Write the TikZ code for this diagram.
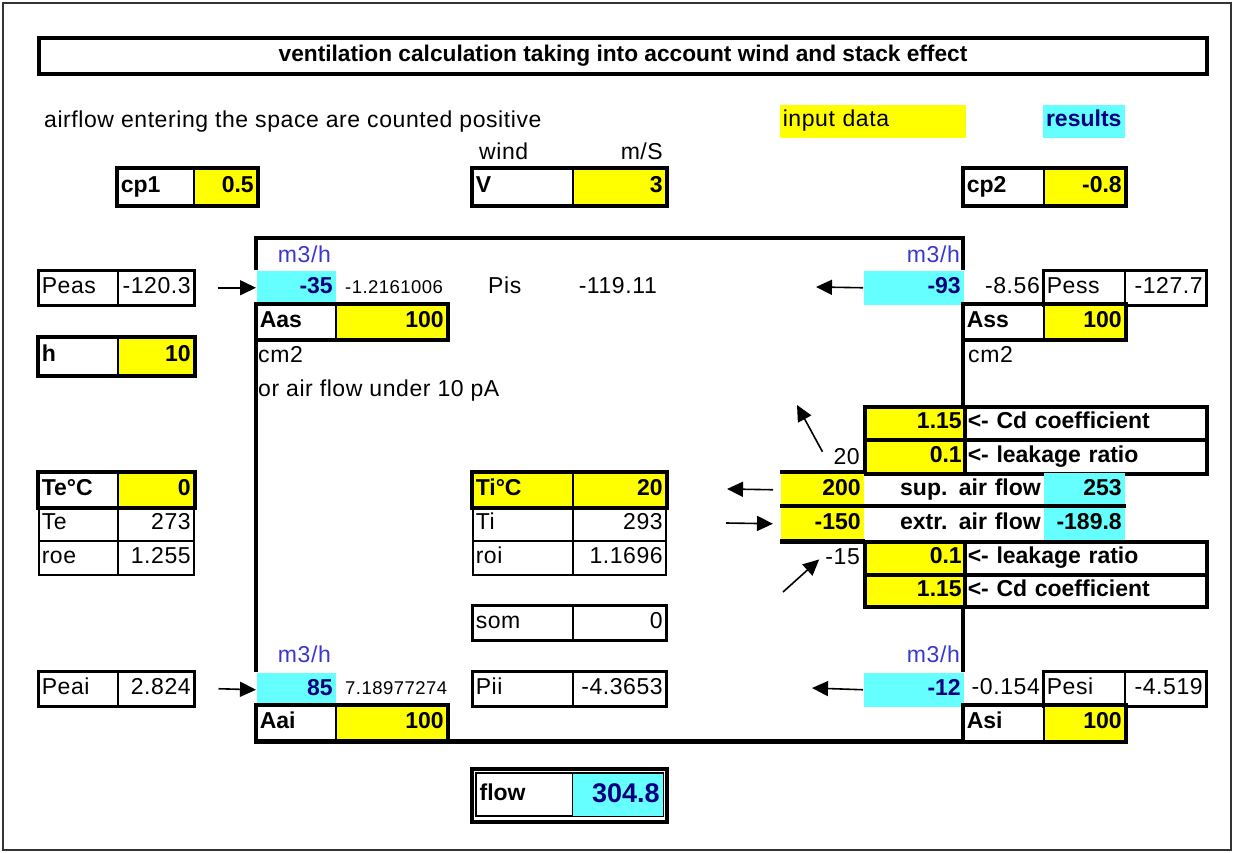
\documentclass[tikz,border=0pt]{standalone}
\usepackage{fontspec}
\setmainfont[LetterSpace=2.5, BoldFeatures={LetterSpace=0}]{Liberation Sans}
\usetikzlibrary{arrows.meta,positioning,calc}
\definecolor{inyellow}{HTML}{FFFF00}
\definecolor{rescyan}{HTML}{66FFFF}
\definecolor{unitblue}{HTML}{3838D0}
\definecolor{resnavy}{HTML}{000080}
\newcommand{\nsize}{\fontsize{23}{27}\selectfont}
\newcommand{\ssize}{\fontsize{18.5}{22}\selectfont}
\newcommand{\bsize}{\fontsize{27}{31}\selectfont}
\tikzset{
  cellbox/.style={rectangle, draw=black, line width=1.5pt, anchor=north west, inner xsep=3pt, inner ysep=0pt,
                  minimum height=#1, text height=16pt, text depth=5pt, font=\nsize},
  cellbox/.default=34pt,
  lblcell/.style={cellbox=#1, align=left},
  lblcell/.default=34pt,
  numcell/.style={cellbox=#1, align=right},
  numcell/.default=34pt,
  incell/.style={cellbox=#1, fill=inyellow, align=right, font=\nsize\bfseries},
  incell/.default=34pt,
  rescell/.style={cellbox=#1, draw=none, fill=rescyan, align=right, font=\nsize\bfseries, text=resnavy},
  rescell/.default=34pt,
  plain/.style={anchor=base west, inner sep=0pt, font=\nsize},
  unit/.style={anchor=base east, inner sep=0pt, font=\nsize, text=unitblue},
  boxthick/.style={line width=4pt},
  midbox/.style={line width=2.5pt},
  wall/.style={line width=4.5pt},
  arr/.style={-{Triangle[length=16pt,width=15pt]}, line width=1.6pt},
}
\begin{document}
\begin{tikzpicture}[x=1pt, y=-1pt]
\useasboundingbox (0,0) rectangle (1234,853);
\draw[line width=1.5pt, black!80] (3,3) rectangle (1231,850);

% header
\node[draw, line width=4pt, anchor=north west, minimum width=1168pt, minimum height=36pt, inner sep=0pt, font=\fontsize{22.7}{26}\selectfont\bfseries] (title) at (37,36) {ventilation calculation taking into account wind and stack effect};
\node[plain] (note) at (44,128) {airflow entering the space are counted positive};
\node[cellbox=33pt, draw=none, fill=inyellow, text width=180pt, align=left] (inkey) at (779,104) {input data};
\node[cellbox=33pt, draw=none, fill=rescyan, text width=76pt, align=center, font=\nsize\bfseries, text=resnavy] (reskey) at (1042,104) {results};
\node[plain] (windl) at (479,160) {wind};
\node[plain, anchor=base east] (windu) at (663,160) {m/S};

% pressure coefficients and wind speed
\node[lblcell=37pt, font=\nsize\bfseries, text width=70pt] (cp1l) at (117,168) {cp1};
\node[incell=37pt, text width=57pt] (cp1v) at (193,168) {0.5};
\draw[boxthick] (cp1l.north west) rectangle (cp1v.south east);
\node[lblcell=37pt, font=\nsize\bfseries, text width=94pt] (vl) at (472,168) {V};
\node[incell=37pt, text width=87pt] (vv) at (572,168) {3};
\draw[boxthick] (vl.north west) rectangle (vv.south east);
\node[lblcell=37pt, font=\nsize\bfseries, text width=74pt] (cp2l) at (963,168) {cp2};
\node[incell=37pt, text width=75pt] (cp2v) at (1043,168) {-0.8};
\draw[boxthick] (cp2l.north west) rectangle (cp2v.south east);

% upper openings
\node[unit] (uas) at (331,262) {m3/h};
\node[unit] (uss) at (960,262) {m3/h};
\node[lblcell, text width=73pt] (peasl) at (38,270) {Peas};
\node[numcell, text width=70pt] (peasv) at (117,270) {-120.3};
\draw[midbox] (peasl.north west) rectangle (peasv.south east);
\node[rescell, text width=73pt] (qas) at (256,270) {-35};
\node[plain, font=\ssize] (qasx) at (345,293) {-1.2161006};
\node[plain] (pisl) at (488,293) {Pis};
\node[plain, anchor=base east] (pisv) at (657,293) {-119.11};
\node[rescell, text width=94pt] (qss) at (863,270) {-93};
\node[plain, anchor=base east] (qssx) at (1040,293) {-8.56};
\node[lblcell, text width=75pt] (pessl) at (1043,270) {Pess};
\node[numcell, text width=75pt] (pessv) at (1124,270) {-127.7};
\draw[midbox] (pessl.north west) rectangle (pessv.south east);

\node[lblcell, font=\nsize\bfseries, text width=73pt] (aasl) at (256,304) {Aas};
\node[incell, text width=105pt] (aasv) at (335,304) {100};
\draw[boxthick] (aasl.north west) rectangle (aasv.south east);
\node[lblcell, font=\nsize\bfseries, text width=74pt] (assl) at (963,304) {Ass};
\node[incell, text width=75pt] (assv) at (1043,304) {100};
\draw[boxthick] (assl.north west) rectangle (assv.south east);
\node[lblcell=37pt, font=\nsize\bfseries, text width=73pt] (hl) at (38,337) {h};
\node[incell=37pt, text width=70pt] (hv) at (117,337) {10};
\draw[boxthick] (hl.north west) rectangle (hv.south east);
\node[plain] (cmas) at (258,362) {cm2};
\node[plain] (cmss) at (968,362) {cm2};
\node[plain] (leaknote) at (258,396) {or air flow under 10 pA};

% leakage, supply side
\node[incell=33pt, line width=3.5pt, text width=94pt] (cd1v) at (863,405) {1.15};
\node[lblcell=33pt, line width=3.5pt, font=\nsize\bfseries, text width=236pt] (cd1l) at (963,405) {<- Cd coefficient};
\node[incell, line width=3.5pt, text width=94pt] (lk1v) at (863,438) {0.1};
\node[lblcell, line width=3.5pt, font=\nsize\bfseries, text width=236pt] (lk1l) at (963,438) {<- leakage ratio};
\node[plain, anchor=base east] (inf1) at (860,464) {20};

% temperatures and mechanical flows
\node[lblcell, font=\nsize\bfseries, text width=73pt] (tecl) at (38,472) {Te°C};
\node[incell, text width=70pt] (tecv) at (117,472) {0};
\draw[boxthick] (tecl.north west) rectangle (tecv.south east);
\node[lblcell, fill=inyellow, font=\nsize\bfseries, text width=94pt] (ticl) at (472,472) {Ti°C};
\node[incell, text width=87pt] (ticv) at (572,472) {20};
\draw[boxthick] (ticl.north west) rectangle (ticv.south east);
\node[incell, draw=none, text width=77pt] (supv) at (780,472) {200};
\node[numcell, draw=none, font=\nsize\bfseries, text width=174pt] (supl) at (863,472) {sup. air flow};
\node[rescell, text=black, text width=75pt] (supr) at (1043,472) {253};

\node[lblcell, text width=73pt] (tel) at (38,506) {Te};
\node[numcell, text width=70pt] (tev) at (117,506) {273};
\node[lblcell, text width=94pt] (til) at (472,506) {Ti};
\node[numcell, text width=87pt] (tiv) at (572,506) {293};
\node[incell, draw=none, text width=77pt] (extv) at (780,506) {-150};
\node[numcell, draw=none, font=\nsize\bfseries, text width=174pt] (extl) at (863,506) {extr. air flow};
\node[rescell, text=black, text width=75pt] (extr) at (1043,506) {-189.8};

\node[lblcell, text width=73pt] (roel) at (38,540) {roe};
\node[numcell, text width=70pt] (roev) at (117,540) {1.255};
\node[lblcell, text width=94pt] (roil) at (472,540) {roi};
\node[numcell, text width=87pt] (roiv) at (572,540) {1.1696};
\node[plain, anchor=base east] (exf1) at (860,564) {-15};

% leakage, exhaust side
\node[incell=33pt, line width=3.5pt, text width=94pt] (lk2v) at (863,540) {0.1};
\node[lblcell=33pt, line width=3.5pt, font=\nsize\bfseries, text width=236pt] (lk2l) at (963,540) {<- leakage ratio};
\node[incell=32pt, line width=3.5pt, text width=94pt] (cd2v) at (863,573) {1.15};
\node[lblcell=32pt, line width=3.5pt, font=\nsize\bfseries, text width=236pt] (cd2l) at (963,573) {<- Cd coefficient};

\node[lblcell, text width=94pt] (soml) at (472,605) {som};
\node[numcell, text width=87pt] (somv) at (572,605) {0};
\draw[midbox] (soml.north west) rectangle (somv.south east);

% lower openings
\node[unit] (uai) at (331,662) {m3/h};
\node[unit] (usi) at (960,662) {m3/h};
\node[lblcell, text width=73pt] (peail) at (38,671) {Peai};
\node[numcell, text width=70pt] (peaiv) at (117,671) {2.824};
\draw[midbox] (peail.north west) rectangle (peaiv.south east);
\node[rescell, text width=73pt] (qai) at (256,672) {85};
\node[plain, font=\ssize] (qaix) at (345,694) {7.18977274};
\node[lblcell, text width=94pt] (piil) at (472,671) {Pii};
\node[numcell, text width=87pt] (piiv) at (572,671) {-4.3653};
\draw[midbox] (piil.north west) rectangle (piiv.south east);
\node[rescell, text width=94pt] (qsi) at (863,672) {-12};
\node[plain, anchor=base east] (qsix) at (1040,694) {-0.154};
\node[lblcell, text width=75pt] (pesil) at (1043,671) {Pesi};
\node[numcell, text width=75pt] (pesiv) at (1124,671) {-4.519};
\draw[midbox] (pesil.north west) rectangle (pesiv.south east);

\node[lblcell=35pt, font=\nsize\bfseries, text width=73pt] (aail) at (256,705) {Aai};
\node[incell=35pt, text width=105pt] (aaiv) at (335,705) {100};
\draw[boxthick] (aail.north west) rectangle (aaiv.south east);
\node[lblcell=35pt, font=\nsize\bfseries, text width=74pt] (asil) at (963,705) {Asi};
\node[incell=35pt, text width=75pt] (asiv) at (1043,705) {100};
\draw[boxthick] (asil.north west) rectangle (asiv.south east);

% total flow
\node[lblcell=42pt, line width=1.2pt, font=\nsize\bfseries, text width=90pt] (flowl) at (476,773) {flow};
\node[rescell=42pt, font=\bsize\bfseries, text height=20pt, text width=84pt] (flowv) at (572,773) {304.8};
\draw[line width=1.2pt] (flowl.north west) rectangle (flowv.south east);
\draw[boxthick] ([shift={(-4pt,4pt)}]flowl.north west) rectangle ([shift={(3pt,-5pt)}]flowv.south east);

% room walls
\coordinate (roomnw) at (256,238);
\coordinate (roomne) at (963,238);
\draw[wall] (roomnw |- qas.north) -- (roomnw) -- (roomne) -- (roomne |- qss.north);
\draw[wall] (roomnw |- aasl.south) -- (roomnw |- qai.north);
\draw[wall] (roomne |- assl.south) -- (roomne |- cd1v.north);
\draw[wall] (roomne |- cd2v.south) -- (roomne |- qsi.north);
\draw[wall] (roomnw |- aail.south) -- (roomne |- asil.south);
\draw[wall] (supv.north west) -- (supv.north east);
\draw[wall] (extv.north west) -- (extr.north east);
\draw[wall] (extv.south west) -- (extv.south east);

% arrows
\coordinate (qssout) at (816,287);
\coordinate (qsiout) at (812,688);
\coordinate (supout) at (727,489);
\coordinate (extin) at (726,523);
\coordinate (infup) at (797,405);
\coordinate (exfdn) at (783,592);
\draw[arr] ([xshift=23pt]peasv.east) -- (qas.west);
\draw[arr] (qss.west) -- (qssout);
\draw[arr] ([xshift=24pt]peaiv.east) -- (qai.west);
\draw[arr] (qsi.west) -- (qsiout);
\draw[arr] ([xshift=-7pt]supv.west) -- (supout);
\draw[arr] (extin) -- ([xshift=-7pt]extv.west);
\draw[arr] ([shift={(-11pt,-4pt)}]inf1.north west) -- (infup);
\draw[arr] (exfdn) -- ([shift={(-6pt,5pt)}]exf1.south west);
\end{tikzpicture}
\end{document}
